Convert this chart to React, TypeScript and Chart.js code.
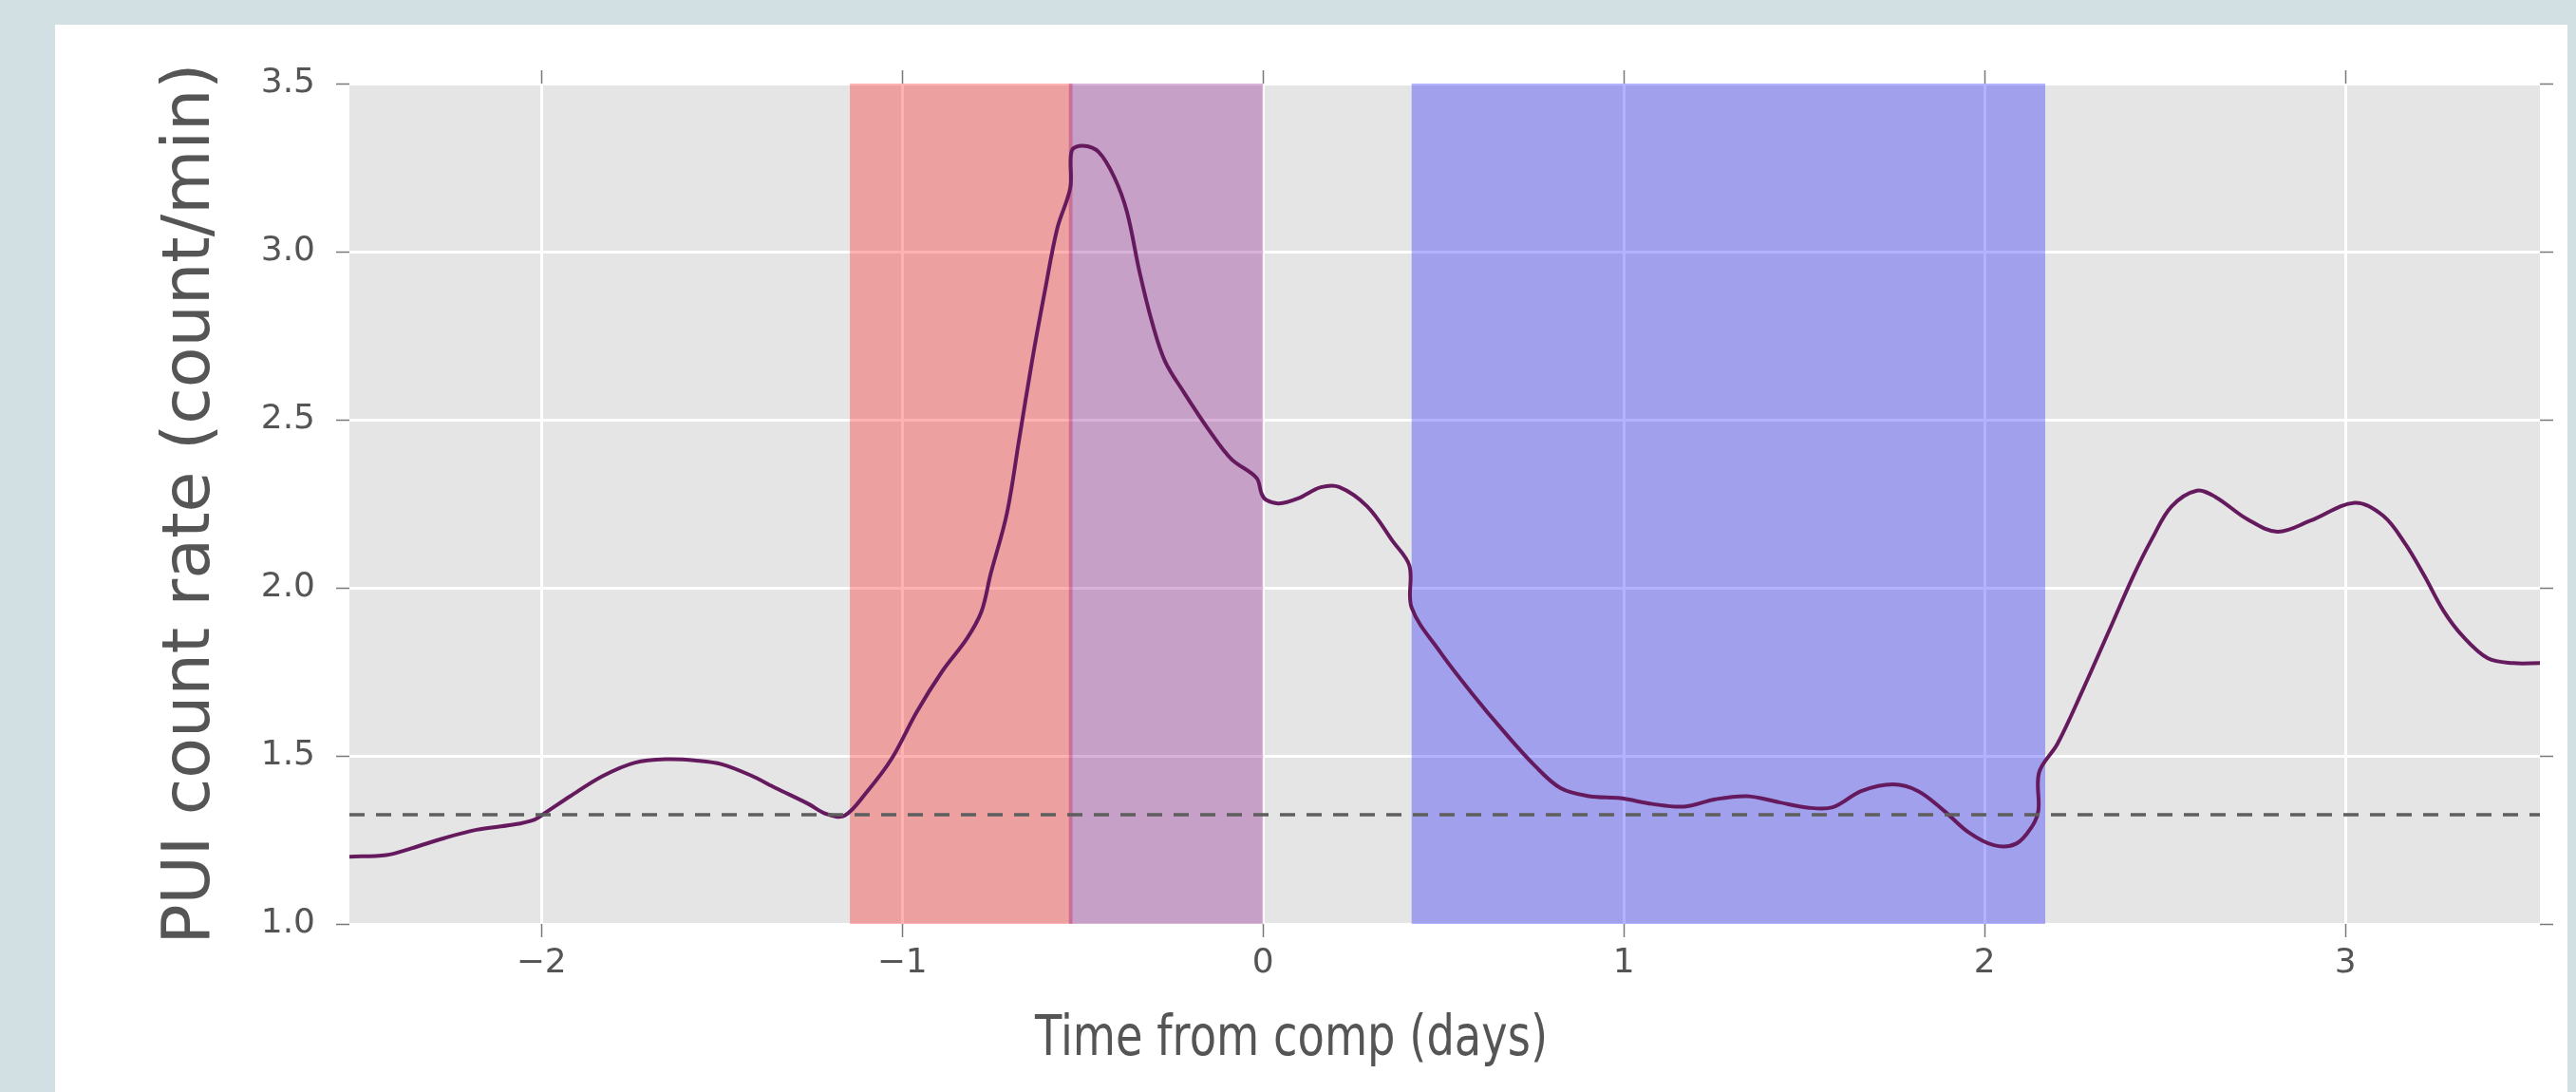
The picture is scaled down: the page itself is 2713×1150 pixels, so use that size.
import { useEffect, useRef } from 'react';
import { Chart, registerables } from 'chart.js';

Chart.register(...registerables);

// ---- data ----
const timeDays = [
  -2.532, -2.43, -2.36, -2.27, -2.18, -2.08, -2.02, -1.99, -1.92, -1.83,
  -1.74, -1.65, -1.57, -1.5, -1.42, -1.35, -1.26, -1.21, -1.16, -1.1,
  -1.03, -0.96, -0.89, -0.82, -0.78, -0.755, -0.71, -0.676, -0.64, -0.605,
  -0.57, -0.534, -0.53, -0.5, -0.456, -0.412, -0.377, -0.342, -0.307, -0.272,
  -0.219, -0.149, -0.088, -0.018, -0.004, 0.009, 0.044, 0.097, 0.16, 0.211,
  0.289, 0.36, 0.406, 0.412, 0.491, 0.579, 0.667, 0.754, 0.825, 0.904,
  0.991, 1.079, 1.167, 1.254, 1.342, 1.43, 1.509, 1.579, 1.658, 1.746,
  1.816, 1.886, 1.956, 2.026, 2.088, 2.132, 2.149, 2.151, 2.202, 2.272,
  2.342, 2.412, 2.465, 2.518, 2.588, 2.64, 2.728, 2.812, 2.904, 3.026,
  3.105, 3.167, 3.219, 3.272, 3.325, 3.395, 3.465, 3.539,
];
const countRate = [
  1.2, 1.205, 1.225, 1.255, 1.28, 1.295, 1.31, 1.33, 1.38, 1.44,
  1.48, 1.49, 1.486, 1.475, 1.442, 1.404, 1.357, 1.327, 1.322, 1.39,
  1.49, 1.63, 1.75, 1.85, 1.93, 2.04, 2.22, 2.44, 2.675, 2.88,
  3.07, 3.19, 3.3, 3.315, 3.297, 3.221, 3.118, 2.939, 2.788, 2.675,
  2.581, 2.468, 2.383, 2.327, 2.28, 2.261, 2.251, 2.266, 2.299, 2.3,
  2.242, 2.138, 2.065, 1.941, 1.809, 1.686, 1.573, 1.47, 1.404, 1.38,
  1.374, 1.357, 1.349, 1.371, 1.38, 1.362, 1.346, 1.347, 1.395, 1.415,
  1.395, 1.338, 1.272, 1.234, 1.239, 1.291, 1.338, 1.451, 1.536, 1.696,
  1.865, 2.035, 2.148, 2.242, 2.289, 2.27, 2.204, 2.167, 2.2, 2.253,
  2.214, 2.129, 2.035, 1.931, 1.856, 1.79, 1.776, 1.776,
];
const baselineRate = 1.325;

const xTickValues = [-2, -1, 0, 1, 2, 3];
const yTickValues = [1.0, 1.5, 2.0, 2.5, 3.0, 3.5];
const xRange = [-2.532, 3.539];
const yRange = [1.0, 3.5];

const spanStarts = [-1.145, -0.538, 0.412];
const spanEnds = [-0.528, 0.0, 2.168];
const spanColors = ['rgba(255,0,0,0.3)', 'rgba(128,0,128,0.3)', 'rgba(0,0,255,0.3)'];

const xTitle = 'Time from comp (days)';
const yTitle = 'PUI count rate (count/min)';

const FONT = '"DejaVu Sans", "Liberation Sans", sans-serif';
const TEXT = '#555555';

const decorPlugin = {
  id: 'decor',
  beforeDraw(chart: any) {
    const { ctx, width, height, chartArea: a } = chart;
    ctx.save();
    ctx.fillStyle = '#d2e0e4';
    ctx.fillRect(0, 0, width, height);
    ctx.fillStyle = '#ffffff';
    ctx.fillRect(58, 26, 2704 - 58, height - 26);
    ctx.fillStyle = '#e5e5e5';
    ctx.fillRect(a.left, a.top, a.right - a.left, a.bottom - a.top);
    ctx.restore();
  },
  beforeDatasetsDraw(chart: any) {
    const { ctx, chartArea: a, scales } = chart;
    const xs = scales.x;
    ctx.save();
    ctx.beginPath();
    ctx.rect(a.left, a.top, a.right - a.left, a.bottom - a.top);
    ctx.clip();
    for (let i = 0; i < spanStarts.length; i++) {
      const x0 = xs.getPixelForValue(spanStarts[i]);
      const x1 = xs.getPixelForValue(spanEnds[i]);
      ctx.fillStyle = spanColors[i];
      ctx.fillRect(x0, a.top, x1 - x0, a.bottom - a.top);
    }
    ctx.restore();
  },
  afterDraw(chart: any) {
    const { ctx, chartArea: a, scales } = chart;
    const xs = scales.x;
    const ys = scales.y;
    const len = 14;
    ctx.save();
    ctx.strokeStyle = '#7a7a7a';
    ctx.lineWidth = 1.5;
    ctx.beginPath();
    for (const v of xTickValues) {
      const px = Math.round(xs.getPixelForValue(v)) + 0.5;
      ctx.moveTo(px, a.top - len);
      ctx.lineTo(px, a.top);
      ctx.moveTo(px, a.bottom);
      ctx.lineTo(px, a.bottom + len);
    }
    for (const v of yTickValues) {
      const py = Math.round(ys.getPixelForValue(v)) + 0.5;
      ctx.moveTo(a.left - len, py);
      ctx.lineTo(a.left, py);
      ctx.moveTo(a.right, py);
      ctx.lineTo(a.right + len, py);
    }
    ctx.stroke();

    // x-axis title (horizontally condensed like the reference)
    ctx.translate(1360, 1096);
    ctx.scale(0.8, 1);
    ctx.font = `58px ${FONT}`;
    ctx.fillStyle = TEXT;
    ctx.textAlign = 'center';
    ctx.textBaseline = 'middle';
    ctx.fillText(xTitle, 0, 0);
    ctx.restore();
  },
};

export default function App() {
  const ref = useRef<HTMLCanvasElement>(null);

  useEffect(() => {
    const canvas = ref.current;
    if (!canvas) return;
    const curve = timeDays.map((x, i) => ({ x, y: countRate[i] }));
    const baseline = [
      { x: xRange[0], y: baselineRate },
      { x: xRange[1], y: baselineRate },
    ];
    const chart = new Chart(canvas, {
      type: 'line',
      data: {
        datasets: [
          {
            label: 'baseline',
            data: baseline,
            borderColor: '#5e5e5e',
            borderWidth: 3.5,
            borderDash: [16, 12],
            pointRadius: 0,
            fill: false,
          },
          {
            label: 'PUI count rate',
            data: curve,
            borderColor: '#651a5e',
            borderWidth: 4,
            pointRadius: 0,
            fill: false,
            tension: 0.35,
          },
        ],
      },
      options: {
        responsive: false,
        animation: false,
        devicePixelRatio: 1,
        layout: { padding: { left: 0, top: 88, right: 38, bottom: 0 } },
        plugins: {
          legend: { display: false },
          tooltip: { enabled: false },
          title: { display: false },
        },
        scales: {
          x: {
            type: 'linear',
            min: xRange[0],
            max: xRange[1],
            afterBuildTicks: (s: any) => {
              s.ticks = xTickValues.map((v) => ({ value: v }));
            },
            afterFit: (s: any) => {
              s.height = 1150 - 973;
            },
            grid: { color: '#ffffff', lineWidth: 3, drawTicks: false },
            border: { display: false },
            ticks: {
              color: TEXT,
              font: { family: FONT, size: 36 },
              padding: 20,
              maxRotation: 0,
              autoSkip: false,
              callback: (v: any) => (Number(v) < 0 ? '\u2212' + Math.abs(Number(v)) : String(v)),
            },
          },
          y: {
            type: 'linear',
            min: yRange[0],
            max: yRange[1],
            afterBuildTicks: (s: any) => {
              s.ticks = yTickValues.map((v) => ({ value: v }));
            },
            afterFit: (s: any) => {
              s.width = 368;
            },
            grid: { color: '#ffffff', lineWidth: 3, drawTicks: false },
            border: { display: false },
            ticks: {
              color: TEXT,
              font: { family: FONT, size: 36 },
              padding: 36,
              autoSkip: false,
              callback: (v: any) => Number(v).toFixed(1),
            },
            title: {
              display: true,
              text: yTitle,
              color: TEXT,
              font: { family: FONT, size: 70 },
              padding: { top: 160, bottom: 0 },
            },
          },
        },
      },
      plugins: [decorPlugin],
    } as any);
    return () => chart.destroy();
  }, []);

  return (
    <div style={{ position: 'absolute', left: 0, top: 0, width: 2713, height: 1150 }}>
      <canvas ref={ref} width={2713} height={1150} style={{ display: 'block', width: 2713, height: 1150 }} />
    </div>
  );
}
